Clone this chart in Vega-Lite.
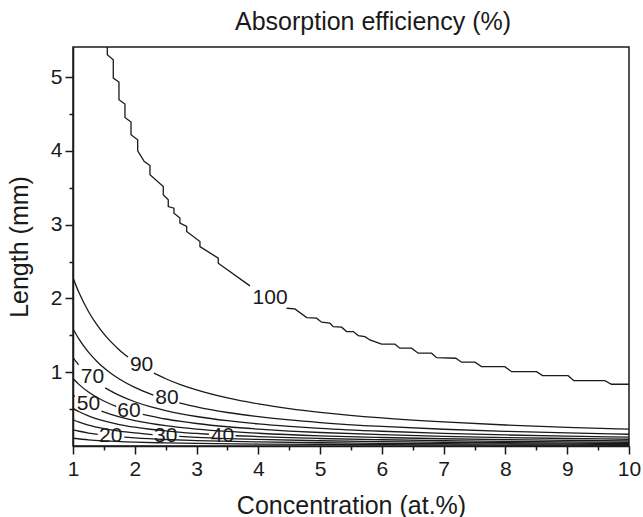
{
  "$schema": "https://vega.github.io/schema/vega-lite/v6.json",
  "width": 556,
  "height": 399,
  "autosize": {"type": "none"},
  "padding": {"left": 73, "top": 47, "right": 14, "bottom": 71},
  "background": "white",
  "title": {"text": "Absorption efficiency (%)", "fontSize": 25, "font": "Liberation Sans", "fontWeight": "normal", "color": "#1a1a1a", "offset": 12, "dx": 22, "anchor": "middle"},
  "config": {"view": {"stroke": "#1a1a1a", "strokeWidth": 1.5}, "font": "Liberation Sans"},
  "datasets": {
    "contours": [
      {"level": 100, "seg": "100a", "C": 1.555, "L": 5.41},
      {"level": 100, "seg": "100a", "C": 1.555, "L": 5.305},
      {"level": 100, "seg": "100a", "C": 1.652, "L": 5.237},
      {"level": 100, "seg": "100a", "C": 1.652, "L": 4.989},
      {"level": 100, "seg": "100a", "C": 1.744, "L": 4.935},
      {"level": 100, "seg": "100a", "C": 1.744, "L": 4.695},
      {"level": 100, "seg": "100a", "C": 1.841, "L": 4.636},
      {"level": 100, "seg": "100a", "C": 1.841, "L": 4.455},
      {"level": 100, "seg": "100a", "C": 1.939, "L": 4.392},
      {"level": 100, "seg": "100a", "C": 1.939, "L": 4.22},
      {"level": 100, "seg": "100a", "C": 2.047, "L": 4.152},
      {"level": 100, "seg": "100a", "C": 2.047, "L": 4.003},
      {"level": 100, "seg": "100a", "C": 2.154, "L": 3.857},
      {"level": 100, "seg": "100a", "C": 2.246, "L": 3.803},
      {"level": 100, "seg": "100a", "C": 2.246, "L": 3.677},
      {"level": 100, "seg": "100a", "C": 2.461, "L": 3.518},
      {"level": 100, "seg": "100a", "C": 2.461, "L": 3.406},
      {"level": 100, "seg": "100a", "C": 2.542, "L": 3.338},
      {"level": 100, "seg": "100a", "C": 2.542, "L": 3.247},
      {"level": 100, "seg": "100a", "C": 2.634, "L": 3.225},
      {"level": 100, "seg": "100a", "C": 2.634, "L": 3.157},
      {"level": 100, "seg": "100a", "C": 2.731, "L": 3.09},
      {"level": 100, "seg": "100a", "C": 2.731, "L": 3.022},
      {"level": 100, "seg": "100a", "C": 2.84, "L": 2.976},
      {"level": 100, "seg": "100a", "C": 2.84, "L": 2.908},
      {"level": 100, "seg": "100a", "C": 3.055, "L": 2.772},
      {"level": 100, "seg": "100a", "C": 3.055, "L": 2.704},
      {"level": 100, "seg": "100a", "C": 3.351, "L": 2.547},
      {"level": 100, "seg": "100a", "C": 3.351, "L": 2.479},
      {"level": 100, "seg": "100a", "C": 3.864, "L": 2.171},
      {"level": 100, "seg": "100b", "C": 4.458, "L": 1.868},
      {"level": 100, "seg": "100b", "C": 4.592, "L": 1.859},
      {"level": 100, "seg": "100b", "C": 4.782, "L": 1.741},
      {"level": 100, "seg": "100b", "C": 4.943, "L": 1.733},
      {"level": 100, "seg": "100b", "C": 5.024, "L": 1.678},
      {"level": 100, "seg": "100b", "C": 5.159, "L": 1.665},
      {"level": 100, "seg": "100b", "C": 5.212, "L": 1.619},
      {"level": 100, "seg": "100b", "C": 5.348, "L": 1.611},
      {"level": 100, "seg": "100b", "C": 5.429, "L": 1.551},
      {"level": 100, "seg": "100b", "C": 5.536, "L": 1.551},
      {"level": 100, "seg": "100b", "C": 5.617, "L": 1.497},
      {"level": 100, "seg": "100b", "C": 5.725, "L": 1.483},
      {"level": 100, "seg": "100b", "C": 5.806, "L": 1.438},
      {"level": 100, "seg": "100b", "C": 5.995, "L": 1.38},
      {"level": 100, "seg": "100b", "C": 6.21, "L": 1.38},
      {"level": 100, "seg": "100b", "C": 6.291, "L": 1.326},
      {"level": 100, "seg": "100b", "C": 6.481, "L": 1.326},
      {"level": 100, "seg": "100b", "C": 6.587, "L": 1.258},
      {"level": 100, "seg": "100b", "C": 6.804, "L": 1.258},
      {"level": 100, "seg": "100b", "C": 6.885, "L": 1.198},
      {"level": 100, "seg": "100b", "C": 7.197, "L": 1.19},
      {"level": 100, "seg": "100b", "C": 7.29, "L": 1.136},
      {"level": 100, "seg": "100b", "C": 7.505, "L": 1.136},
      {"level": 100, "seg": "100b", "C": 7.613, "L": 1.076},
      {"level": 100, "seg": "100b", "C": 7.99, "L": 1.076},
      {"level": 100, "seg": "100b", "C": 8.099, "L": 1.008},
      {"level": 100, "seg": "100b", "C": 8.503, "L": 1.008},
      {"level": 100, "seg": "100b", "C": 8.6, "L": 0.954},
      {"level": 100, "seg": "100b", "C": 9.015, "L": 0.954},
      {"level": 100, "seg": "100b", "C": 9.107, "L": 0.886},
      {"level": 100, "seg": "100b", "C": 9.608, "L": 0.886},
      {"level": 100, "seg": "100b", "C": 9.717, "L": 0.837},
      {"level": 100, "seg": "100b", "C": 10, "L": 0.837},

      {"level": 90, "seg": "90a", "C": 1, "L": 2.28},
      {"level": 90, "seg": "90a", "C": 1.1, "L": 2.073},
      {"level": 90, "seg": "90a", "C": 1.25, "L": 1.824},
      {"level": 90, "seg": "90a", "C": 1.4, "L": 1.629},
      {"level": 90, "seg": "90a", "C": 1.5, "L": 1.52},
      {"level": 90, "seg": "90a", "C": 1.6, "L": 1.425},
      {"level": 90, "seg": "90a", "C": 1.75, "L": 1.303},
      {"level": 90, "seg": "90a", "C": 1.89, "L": 1.206},
      {"level": 90, "seg": "90b", "C": 2.31, "L": 0.987},
      {"level": 90, "seg": "90b", "C": 2.5, "L": 0.912},
      {"level": 90, "seg": "90b", "C": 2.75, "L": 0.829},
      {"level": 90, "seg": "90b", "C": 3, "L": 0.76},
      {"level": 90, "seg": "90b", "C": 3.5, "L": 0.651},
      {"level": 90, "seg": "90b", "C": 4, "L": 0.57},
      {"level": 90, "seg": "90b", "C": 4.5, "L": 0.507},
      {"level": 90, "seg": "90b", "C": 5, "L": 0.456},
      {"level": 90, "seg": "90b", "C": 6, "L": 0.38},
      {"level": 90, "seg": "90b", "C": 7, "L": 0.326},
      {"level": 90, "seg": "90b", "C": 8, "L": 0.285},
      {"level": 90, "seg": "90b", "C": 9, "L": 0.253},
      {"level": 90, "seg": "90b", "C": 10, "L": 0.228},

      {"level": 80, "seg": "80a", "C": 1, "L": 1.59},
      {"level": 80, "seg": "80a", "C": 1.1, "L": 1.445},
      {"level": 80, "seg": "80a", "C": 1.25, "L": 1.272},
      {"level": 80, "seg": "80a", "C": 1.4, "L": 1.136},
      {"level": 80, "seg": "80a", "C": 1.5, "L": 1.06},
      {"level": 80, "seg": "80a", "C": 1.6, "L": 0.994},
      {"level": 80, "seg": "80a", "C": 1.75, "L": 0.909},
      {"level": 80, "seg": "80a", "C": 2, "L": 0.795},
      {"level": 80, "seg": "80a", "C": 2.3, "L": 0.691},
      {"level": 80, "seg": "80b", "C": 2.72, "L": 0.585},
      {"level": 80, "seg": "80b", "C": 3, "L": 0.53},
      {"level": 80, "seg": "80b", "C": 3.5, "L": 0.454},
      {"level": 80, "seg": "80b", "C": 4, "L": 0.398},
      {"level": 80, "seg": "80b", "C": 4.5, "L": 0.353},
      {"level": 80, "seg": "80b", "C": 5, "L": 0.318},
      {"level": 80, "seg": "80b", "C": 6, "L": 0.265},
      {"level": 80, "seg": "80b", "C": 7, "L": 0.227},
      {"level": 80, "seg": "80b", "C": 8, "L": 0.199},
      {"level": 80, "seg": "80b", "C": 9, "L": 0.177},
      {"level": 80, "seg": "80b", "C": 10, "L": 0.159},

      {"level": 70, "seg": "70a", "C": 1, "L": 1.2},
      {"level": 70, "seg": "70a", "C": 1.05, "L": 1.143},
      {"level": 70, "seg": "70a", "C": 1.09, "L": 1.101},
      {"level": 70, "seg": "70b", "C": 1.52, "L": 0.789},
      {"level": 70, "seg": "70b", "C": 1.75, "L": 0.686},
      {"level": 70, "seg": "70b", "C": 2, "L": 0.6},
      {"level": 70, "seg": "70b", "C": 2.25, "L": 0.533},
      {"level": 70, "seg": "70b", "C": 2.5, "L": 0.48},
      {"level": 70, "seg": "70b", "C": 2.75, "L": 0.436},
      {"level": 70, "seg": "70b", "C": 3, "L": 0.4},
      {"level": 70, "seg": "70b", "C": 3.5, "L": 0.343},
      {"level": 70, "seg": "70b", "C": 4, "L": 0.3},
      {"level": 70, "seg": "70b", "C": 4.5, "L": 0.267},
      {"level": 70, "seg": "70b", "C": 5, "L": 0.24},
      {"level": 70, "seg": "70b", "C": 6, "L": 0.2},
      {"level": 70, "seg": "70b", "C": 7, "L": 0.171},
      {"level": 70, "seg": "70b", "C": 8, "L": 0.15},
      {"level": 70, "seg": "70b", "C": 9, "L": 0.133},
      {"level": 70, "seg": "70b", "C": 10, "L": 0.12},

      {"level": 60, "seg": "60a", "C": 1, "L": 0.915},
      {"level": 60, "seg": "60a", "C": 1.1, "L": 0.832},
      {"level": 60, "seg": "60a", "C": 1.25, "L": 0.732},
      {"level": 60, "seg": "60a", "C": 1.4, "L": 0.654},
      {"level": 60, "seg": "60a", "C": 1.55, "L": 0.59},
      {"level": 60, "seg": "60a", "C": 1.7, "L": 0.538},
      {"level": 60, "seg": "60b", "C": 2.13, "L": 0.43},
      {"level": 60, "seg": "60b", "C": 2.5, "L": 0.366},
      {"level": 60, "seg": "60b", "C": 2.75, "L": 0.333},
      {"level": 60, "seg": "60b", "C": 3, "L": 0.305},
      {"level": 60, "seg": "60b", "C": 3.5, "L": 0.261},
      {"level": 60, "seg": "60b", "C": 4, "L": 0.229},
      {"level": 60, "seg": "60b", "C": 4.5, "L": 0.203},
      {"level": 60, "seg": "60b", "C": 5, "L": 0.183},
      {"level": 60, "seg": "60b", "C": 6, "L": 0.153},
      {"level": 60, "seg": "60b", "C": 7, "L": 0.131},
      {"level": 60, "seg": "60b", "C": 8, "L": 0.114},
      {"level": 60, "seg": "60b", "C": 9, "L": 0.102},
      {"level": 60, "seg": "60b", "C": 10, "L": 0.0915},

      {"level": 50, "seg": "50a", "C": 1, "L": 0.69},
      {"level": 50, "seg": "50a", "C": 1.03, "L": 0.67},
      {"level": 50, "seg": "50b", "C": 1.46, "L": 0.473},
      {"level": 50, "seg": "50b", "C": 1.6, "L": 0.431},
      {"level": 50, "seg": "50b", "C": 1.75, "L": 0.394},
      {"level": 50, "seg": "50b", "C": 2, "L": 0.345},
      {"level": 50, "seg": "50b", "C": 2.25, "L": 0.307},
      {"level": 50, "seg": "50b", "C": 2.5, "L": 0.276},
      {"level": 50, "seg": "50b", "C": 3, "L": 0.23},
      {"level": 50, "seg": "50b", "C": 3.5, "L": 0.197},
      {"level": 50, "seg": "50b", "C": 4, "L": 0.173},
      {"level": 50, "seg": "50b", "C": 5, "L": 0.138},
      {"level": 50, "seg": "50b", "C": 6, "L": 0.115},
      {"level": 50, "seg": "50b", "C": 7, "L": 0.0986},
      {"level": 50, "seg": "50b", "C": 8, "L": 0.0863},
      {"level": 50, "seg": "50b", "C": 9, "L": 0.0767},
      {"level": 50, "seg": "50b", "C": 10, "L": 0.069},

      {"level": 40, "seg": "40a", "C": 1, "L": 0.51},
      {"level": 40, "seg": "40a", "C": 1.1, "L": 0.464},
      {"level": 40, "seg": "40a", "C": 1.25, "L": 0.408},
      {"level": 40, "seg": "40a", "C": 1.5, "L": 0.34},
      {"level": 40, "seg": "40a", "C": 1.75, "L": 0.291},
      {"level": 40, "seg": "40a", "C": 2, "L": 0.255},
      {"level": 40, "seg": "40a", "C": 2.25, "L": 0.227},
      {"level": 40, "seg": "40a", "C": 2.5, "L": 0.204},
      {"level": 40, "seg": "40a", "C": 2.75, "L": 0.185},
      {"level": 40, "seg": "40a", "C": 3, "L": 0.17},
      {"level": 40, "seg": "40a", "C": 3.2, "L": 0.159},
      {"level": 40, "seg": "40b", "C": 3.63, "L": 0.14},
      {"level": 40, "seg": "40b", "C": 4, "L": 0.128},
      {"level": 40, "seg": "40b", "C": 4.5, "L": 0.113},
      {"level": 40, "seg": "40b", "C": 5, "L": 0.102},
      {"level": 40, "seg": "40b", "C": 6, "L": 0.085},
      {"level": 40, "seg": "40b", "C": 7, "L": 0.0729},
      {"level": 40, "seg": "40b", "C": 8, "L": 0.0638},
      {"level": 40, "seg": "40b", "C": 9, "L": 0.0567},
      {"level": 40, "seg": "40b", "C": 10, "L": 0.051},

      {"level": 30, "seg": "30a", "C": 1, "L": 0.355},
      {"level": 30, "seg": "30a", "C": 1.1, "L": 0.323},
      {"level": 30, "seg": "30a", "C": 1.25, "L": 0.284},
      {"level": 30, "seg": "30a", "C": 1.5, "L": 0.237},
      {"level": 30, "seg": "30a", "C": 1.75, "L": 0.203},
      {"level": 30, "seg": "30a", "C": 2, "L": 0.178},
      {"level": 30, "seg": "30a", "C": 2.29, "L": 0.155},
      {"level": 30, "seg": "30b", "C": 2.72, "L": 0.131},
      {"level": 30, "seg": "30b", "C": 3, "L": 0.118},
      {"level": 30, "seg": "30b", "C": 3.5, "L": 0.101},
      {"level": 30, "seg": "30b", "C": 4, "L": 0.0888},
      {"level": 30, "seg": "30b", "C": 5, "L": 0.071},
      {"level": 30, "seg": "30b", "C": 6, "L": 0.0592},
      {"level": 30, "seg": "30b", "C": 7, "L": 0.0507},
      {"level": 30, "seg": "30b", "C": 8, "L": 0.0444},
      {"level": 30, "seg": "30b", "C": 9, "L": 0.0394},
      {"level": 30, "seg": "30b", "C": 10, "L": 0.0355},

      {"level": 20, "seg": "20a", "C": 1, "L": 0.22},
      {"level": 20, "seg": "20a", "C": 1.1, "L": 0.2},
      {"level": 20, "seg": "20a", "C": 1.25, "L": 0.176},
      {"level": 20, "seg": "20a", "C": 1.4, "L": 0.157},
      {"level": 20, "seg": "20b", "C": 1.83, "L": 0.12},
      {"level": 20, "seg": "20b", "C": 2, "L": 0.11},
      {"level": 20, "seg": "20b", "C": 2.5, "L": 0.088},
      {"level": 20, "seg": "20b", "C": 3, "L": 0.0733},
      {"level": 20, "seg": "20b", "C": 4, "L": 0.055},
      {"level": 20, "seg": "20b", "C": 5, "L": 0.044},
      {"level": 20, "seg": "20b", "C": 6, "L": 0.0367},
      {"level": 20, "seg": "20b", "C": 7, "L": 0.0314},
      {"level": 20, "seg": "20b", "C": 8, "L": 0.0275},
      {"level": 20, "seg": "20b", "C": 9, "L": 0.0244},
      {"level": 20, "seg": "20b", "C": 10, "L": 0.022},

      {"level": 10, "seg": "10a", "C": 1, "L": 0.105},
      {"level": 10, "seg": "10a", "C": 1.25, "L": 0.084},
      {"level": 10, "seg": "10a", "C": 1.5, "L": 0.07},
      {"level": 10, "seg": "10a", "C": 2, "L": 0.0525},
      {"level": 10, "seg": "10a", "C": 2.5, "L": 0.042},
      {"level": 10, "seg": "10a", "C": 3, "L": 0.035},
      {"level": 10, "seg": "10a", "C": 4, "L": 0.0263},
      {"level": 10, "seg": "10a", "C": 5, "L": 0.021},
      {"level": 10, "seg": "10a", "C": 6, "L": 0.0175},
      {"level": 10, "seg": "10a", "C": 7, "L": 0.015},
      {"level": 10, "seg": "10a", "C": 8, "L": 0.0131},
      {"level": 10, "seg": "10a", "C": 9, "L": 0.0117},
      {"level": 10, "seg": "10a", "C": 10, "L": 0.0105}
    ],
    "labels": [
      {"label": "100", "C": 4.19, "L": 2.01},
      {"label": "90", "C": 2.11, "L": 1.1},
      {"label": "80", "C": 2.52, "L": 0.647},
      {"label": "70", "C": 1.315, "L": 0.93},
      {"label": "60", "C": 1.906, "L": 0.48},
      {"label": "50", "C": 1.25, "L": 0.57},
      {"label": "40", "C": 3.42, "L": 0.14},
      {"label": "30", "C": 2.5, "L": 0.14},
      {"label": "20", "C": 1.61, "L": 0.14}
    ]
  },
  "resolve": {"axis": {"x": "independent", "y": "independent"}},
  "layer": [
    {
      "data": {"name": "contours"},
      "transform": [{"filter": "datum.level != 100"}],
      "mark": {"type": "line", "interpolate": "monotone", "color": "#1a1a1a", "strokeWidth": 1.3, "clip": true},
      "encoding": {
        "x": {"field": "C", "type": "quantitative", "scale": {"domain": [1, 10], "nice": false, "zero": false},
          "axis": {"orient": "bottom", "values": [1, 2, 3, 4, 5, 6, 7, 8, 9, 10], "format": "d", "tickSize": 8, "tickWidth": 1.5, "tickColor": "#1a1a1a", "domainColor": "#1a1a1a", "domainWidth": 1.5, "labelFontSize": 21, "labelColor": "#1a1a1a", "labelPadding": 4, "labelFlush": false, "grid": false, "title": "Concentration (at.%)", "titleFontSize": 25, "titleFontWeight": "normal", "titleColor": "#1a1a1a", "titlePadding": 14}},
        "y": {"field": "L", "type": "quantitative", "scale": {"domain": [0, 5.41], "nice": false, "zero": false},
          "axis": {"orient": "left", "values": [1, 2, 3, 4, 5], "format": "d", "tickSize": 8, "tickWidth": 1.5, "tickColor": "#1a1a1a", "domainColor": "#1a1a1a", "domainWidth": 1.5, "labelFontSize": 21, "labelColor": "#1a1a1a", "labelPadding": 3, "grid": false, "title": "Length (mm)", "titleFontSize": 25, "titleFontWeight": "normal", "titleColor": "#1a1a1a", "titlePadding": 18}},
        "detail": {"field": "seg", "type": "nominal"},
        "order": {"field": "C", "type": "quantitative"}
      }
    },
    {
      "data": {"name": "contours"},
      "transform": [{"filter": "datum.level == 100"}],
      "mark": {"type": "line", "interpolate": "linear", "color": "#1a1a1a", "strokeWidth": 1.3, "clip": true},
      "encoding": {
        "x": {"field": "C", "type": "quantitative", "scale": {"domain": [1, 10], "nice": false, "zero": false},
          "axis": {"orient": "bottom", "values": [1.5, 2.5, 3.5, 4.5, 5.5, 6.5, 7.5, 8.5, 9.5], "tickSize": 4, "tickWidth": 1.5, "tickColor": "#1a1a1a", "labels": false, "domain": false, "grid": false, "title": null}},
        "y": {"field": "L", "type": "quantitative", "scale": {"domain": [0, 5.41], "nice": false, "zero": false},
          "axis": {"orient": "left", "values": [0.5, 1.5, 2.5, 3.5, 4.5], "tickSize": 4, "tickWidth": 1.5, "tickColor": "#1a1a1a", "labels": false, "domain": false, "grid": false, "title": null}},
        "detail": {"field": "seg", "type": "nominal"},
        "order": {"field": "L", "type": "quantitative", "sort": "descending"}
      }
    },
    {
      "data": {"name": "labels"},
      "mark": {"type": "text", "font": "Liberation Sans", "fontSize": 21, "color": "#1a1a1a", "align": "center", "baseline": "middle"},
      "encoding": {
        "x": {"field": "C", "type": "quantitative", "scale": {"domain": [1, 10], "nice": false, "zero": false}, "axis": null},
        "y": {"field": "L", "type": "quantitative", "scale": {"domain": [0, 5.41], "nice": false, "zero": false}, "axis": null},
        "text": {"field": "label", "type": "nominal"}
      }
    }
  ]
}
